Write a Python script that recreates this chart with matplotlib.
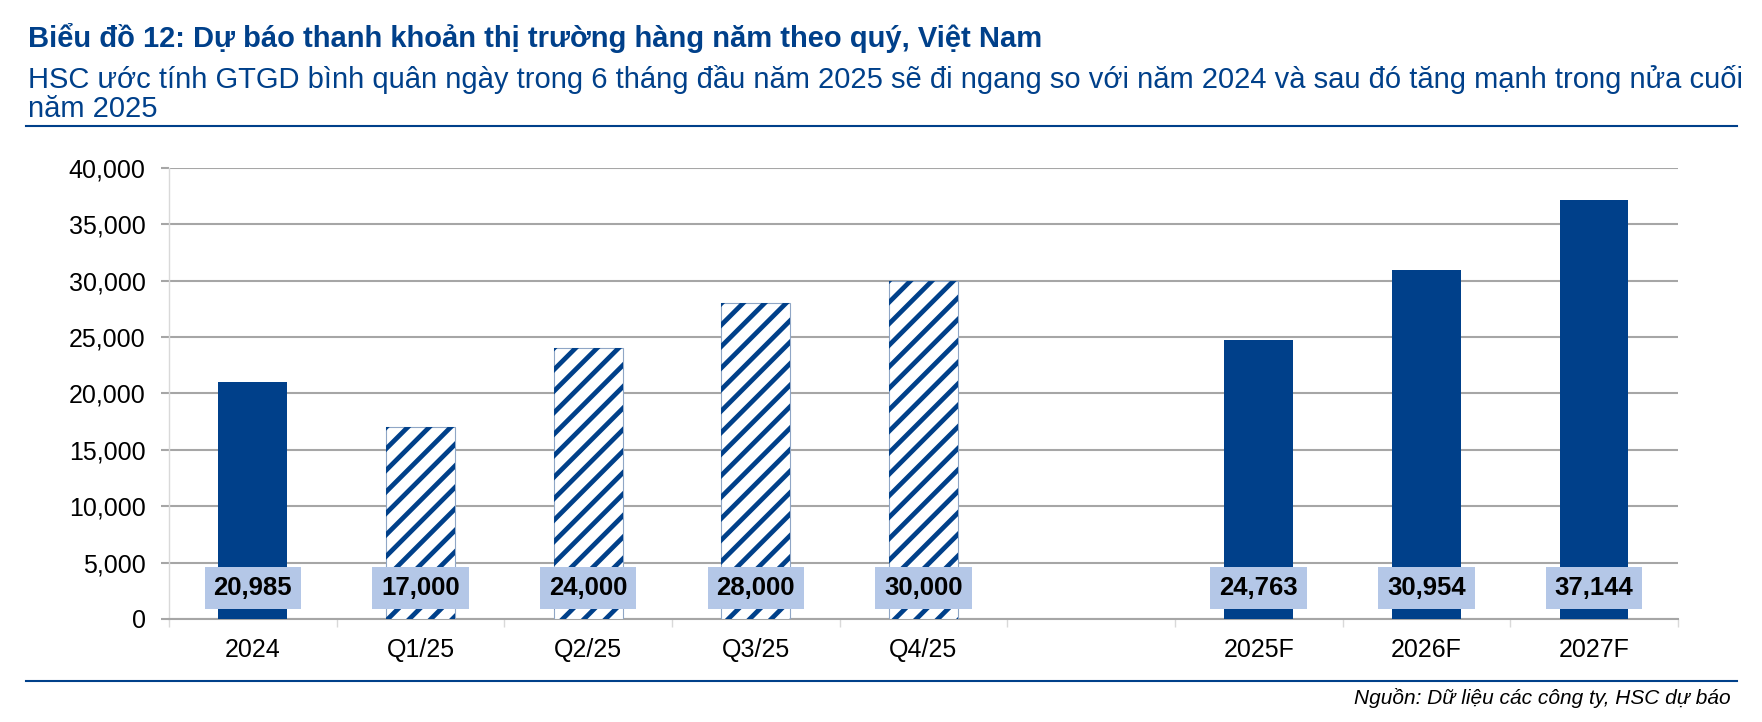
import numpy as np
import matplotlib
matplotlib.use("Agg")
import matplotlib.pyplot as plt
from matplotlib.lines import Line2D
from matplotlib.transforms import IdentityTransform

# %% data
categories = ["2024", "Q1/25", "Q2/25", "Q3/25", "Q4/25", "", "2025F", "2026F", "2027F"]
values = [20985, 17000, 24000, 28000, 30000, np.nan, 24763, 30954, 37144]
hatched = [False, True, True, True, True, False, False, False, False]
yticks = [0, 5000, 10000, 15000, 20000, 25000, 30000, 35000, 40000]

title = "Biểu đồ 12: Dự báo thanh khoản thị trường hàng năm theo quý, Việt Nam"
subtitle_1 = ("HSC ước tính GTGD bình quân ngày trong 6 tháng đầu năm 2025 sẽ đi ngang so với năm 2024 "
              "và sau đó tăng mạnh trong nửa cuối")
subtitle_2 = "năm 2025"
source = "Nguồn: Dữ liệu các công ty, HSC dự báo"

# %% style
navy = "#00408A"
box_blue = "#B4C7E7"
grid_col = "#A6A6A6"
plt.rcParams["font.family"] = ["Liberation Sans", "DejaVu Sans"]

fig = plt.figure(figsize=(17.62, 7.22), dpi=100)
ax = fig.add_axes([0.0959, 0.1427, 0.9523 - 0.0959, 0.7673 - 0.1427])
ax.set_xlim(-0.5, len(categories) - 0.5)
ax.set_ylim(0, 40000)

x = np.arange(len(categories))
w = 0.41
for i, v in enumerate(values):
    if np.isnan(v):
        continue
    if hatched[i]:
        bar = ax.bar(x[i], v, width=w, color="white", edgecolor="#8FA6C6", linewidth=0.8, zorder=3)[0]
        # diagonal stripes in pixel space, clipped to the bar
        (x0, y0), (x1, y1) = ax.transData.transform([(x[i] - w / 2, 0), (x[i] + w / 2, v)])
        step = 21.5
        for off in np.arange(-(y1 - y0), (x1 - x0) + step, step):
            ln = Line2D([x0 + off - 20, x0 + off + (y1 - y0) + 20], [y0 - 20, y1 + 20],
                        transform=IdentityTransform(), color=navy, linewidth=3.4,
                        solid_capstyle="butt", zorder=3.5)
            ax.add_artist(ln)
            ln.set_clip_path(bar)
    else:
        ax.bar(x[i], v, width=w, color=navy, linewidth=0, zorder=3)
    ax.text(x[i], 2750, f"{v:,.0f}", ha="center", va="center", fontsize=18.5, fontweight="bold",
            color="black", zorder=5,
            bbox=dict(boxstyle="square,pad=0.35", facecolor=box_blue, edgecolor="none"))

ax.set_yticks(yticks)
ax.set_yticklabels([f"{t:,}" for t in yticks], fontsize=18)
ax.yaxis.grid(True, color=grid_col, linewidth=1.5, zorder=0)
ax.tick_params(axis="y", length=5.8, width=1.5, color=grid_col, pad=11)

ax.set_xticks(x)
ax.set_xticklabels(categories, fontsize=18)
ax.tick_params(axis="x", length=0, pad=14)
ax.set_xticks(np.arange(len(categories) + 1) - 0.5, minor=True)
ax.tick_params(axis="x", which="minor", length=6, width=1, color="#D9D9D9")

for s in ["top", "right"]:
    ax.spines[s].set_visible(False)
ax.spines["left"].set_color("#D9D9D9")
ax.spines["left"].set_linewidth(1)
ax.spines["bottom"].set_color(grid_col)
ax.spines["bottom"].set_linewidth(1.5)

# header / footer
fig.text(0.0159, 0.9349, title, fontsize=21, fontweight="bold", color=navy, va="baseline")
fig.text(0.0159, 0.8781, subtitle_1, fontsize=21, color=navy, va="baseline")
fig.text(0.0159, 0.8380, subtitle_2, fontsize=21, color=navy, va="baseline")
fig.add_artist(Line2D([0.0148, 0.9858], [0.8255, 0.8255], color=navy, linewidth=1.5))
fig.add_artist(Line2D([0.0148, 0.9858], [0.057, 0.057], color=navy, linewidth=1.5))
fig.text(0.982, 0.033, source, fontsize=15, style="italic", color="black", ha="right", va="center")

fig.savefig("out.png", dpi=100)
